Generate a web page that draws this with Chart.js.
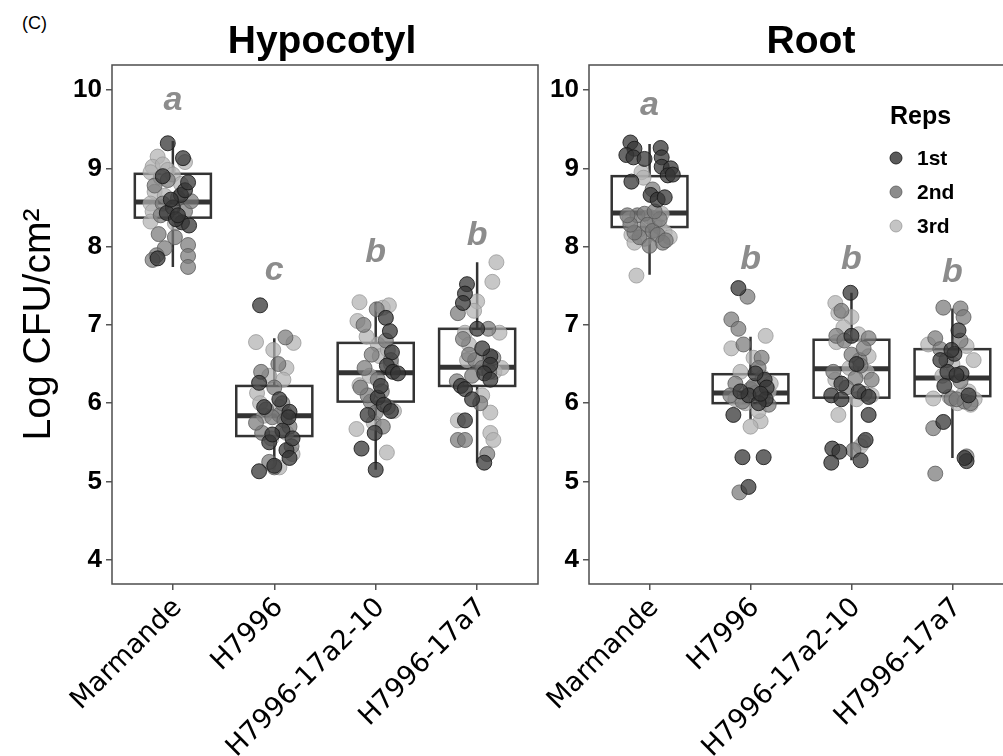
<!DOCTYPE html>
<html>
<head>
<meta charset="utf-8">
<script src="https://cdn.jsdelivr.net/npm/chart.js@4/dist/chart.umd.min.js"></script>
<style>
  html, body { margin: 0; padding: 0; background: #fff; overflow: hidden; width: 1003px; height: 756px; }
  canvas { position: absolute; top: 0; }
  #left { left: 0; }
  #right { left: 520px; }
  #tag { position: absolute; left: 22px; top: 13px; font: 18px Arial, sans-serif; color: #000; }
</style>
</head>
<body>
<div id="tag">(C)</div>
<canvas id="left" width="548" height="756"></canvas>
<canvas id="right" width="503" height="756"></canvas>
<script>
const categories = ['Marmande', 'H7996', 'H7996-17a2-10', 'H7996-17a7']
const repNames = ['1st', '2nd', '3rd']
const yTicks = [4, 5, 6, 7, 8, 9, 10]

// box stats
const hypoLow = [7.74, 5.15, 5.15, 5.24]
const hypoQ1 = [8.37, 5.58, 6.02, 6.22]
const hypoMed = [8.57, 5.84, 6.39, 6.46]
const hypoQ3 = [8.93, 6.22, 6.77, 6.95]
const hypoHigh = [9.35, 6.83, 7.29, 7.80]

const rootLow = [7.64, 5.79, 5.27, 5.30]
const rootQ1 = [8.25, 6.00, 6.07, 6.09]
const rootMed = [8.43, 6.13, 6.44, 6.32]
const rootQ3 = [8.90, 6.37, 6.81, 6.69]
const rootHigh = [9.31, 6.85, 7.41, 7.21]

// significance letters and the value their baseline sits on
const hypoLetters = ['a', 'c', 'b', 'b']
const hypoLetterY = [9.74, 7.57, 7.80, 8.02]
const rootLetters = ['a', 'b', 'b', 'b']
const rootLetterY = [9.68, 7.71, 7.71, 7.55]

// jittered points per rep, per genotype: [x jitter, log CFU]
const hypoRep1 = [
    [[-0.05, 9.32], [0.10, 9.13], [0.08, 8.66], [0.00, 8.50], [0.09, 8.31], [0.16, 8.27], [-0.06, 8.43], [0.12, 8.72], [0.03, 8.35], [-0.10, 8.90], [0.15, 8.82], [-0.02, 8.60], [0.05, 8.40], [-0.15, 7.85]],
    [[-0.14, 7.25], [-0.15, 6.26], [0.15, 5.89], [0.14, 5.82], [-0.05, 5.50], [0.12, 5.40], [0.15, 5.30], [-0.15, 5.13], [0.08, 5.65], [-0.02, 5.60], [0.18, 5.55], [0.05, 6.05], [-0.10, 5.95], [0.00, 5.20]],
    [[0.10, 7.09], [0.14, 6.92], [0.16, 6.65], [0.11, 6.48], [0.17, 6.40], [0.22, 6.38], [0.02, 6.07], [0.08, 5.98], [0.15, 5.90], [-0.01, 5.62], [-0.14, 5.42], [0.00, 5.15], [0.05, 6.22], [-0.08, 5.85]],
    [[-0.10, 7.52], [-0.12, 7.40], [-0.14, 7.28], [0.13, 6.60], [0.13, 6.49], [0.07, 6.38], [-0.16, 6.22], [-0.12, 6.18], [0.13, 6.30], [-0.12, 5.78], [0.07, 5.24], [0.00, 6.95], [0.05, 6.70], [-0.05, 6.05]]
]
const hypoRep2 = [
    [[-0.14, 8.16], [-0.08, 7.98], [-0.16, 7.89], [-0.20, 7.83], [0.15, 8.02], [0.15, 7.88], [0.15, 7.74], [0.02, 8.12], [-0.10, 8.55], [0.05, 8.62], [-0.18, 8.78], [0.12, 8.45], [-0.05, 8.85], [0.18, 8.58], [-0.12, 8.40]],
    [[0.11, 6.84], [0.04, 6.50], [-0.13, 6.40], [0.00, 6.20], [-0.08, 5.92], [0.05, 5.85], [-0.02, 5.82], [0.10, 5.78], [-0.12, 5.62], [0.15, 5.70], [0.17, 5.45], [0.00, 5.18], [-0.05, 5.25], [0.08, 6.00], [-0.18, 5.75]],
    [[0.01, 7.20], [-0.12, 7.00], [-0.04, 6.62], [-0.11, 6.45], [0.02, 6.30], [0.06, 6.15], [-0.05, 6.02], [0.12, 5.95], [0.07, 5.70], [-0.08, 6.10], [0.15, 6.55], [0.10, 6.80], [-0.15, 6.20], [0.00, 5.88]],
    [[-0.19, 7.15], [0.11, 6.95], [-0.14, 6.82], [-0.02, 6.55], [0.05, 6.45], [0.12, 6.40], [-0.05, 6.35], [-0.20, 6.28], [0.03, 6.00], [-0.19, 5.53], [-0.12, 5.53], [0.10, 5.35], [0.16, 6.58], [-0.08, 6.62]]
]
const hypoRep3 = [
    [[-0.15, 9.15], [-0.20, 9.02], [-0.10, 9.05], [-0.22, 8.95], [-0.05, 8.98], [-0.12, 8.88], [0.00, 8.92], [-0.18, 8.70], [-0.22, 8.55], [-0.08, 8.65], [0.08, 8.80], [-0.20, 8.45], [0.02, 8.30], [-0.22, 8.32], [0.12, 9.08]],
    [[-0.18, 6.78], [0.19, 6.77], [-0.01, 6.68], [0.12, 6.45], [-0.17, 6.13], [-0.05, 6.35], [0.09, 6.30], [-0.14, 6.00], [0.05, 5.95], [-0.10, 5.84], [0.12, 5.62], [-0.03, 5.55], [0.18, 5.35], [0.05, 5.18], [0.10, 5.88]],
    [[-0.16, 7.29], [0.07, 7.22], [0.13, 7.25], [-0.18, 7.05], [0.02, 6.75], [-0.09, 6.85], [-0.16, 6.23], [0.04, 6.60], [0.15, 6.50], [-0.19, 5.67], [0.11, 5.37], [0.18, 5.90], [-0.06, 6.35], [0.12, 6.68], [-0.02, 5.75]],
    [[0.19, 7.80], [0.15, 7.55], [0.00, 7.30], [-0.03, 7.18], [-0.12, 6.90], [-0.08, 6.75], [0.22, 6.90], [0.17, 6.40], [0.24, 6.45], [-0.19, 5.78], [0.13, 5.88], [0.13, 5.62], [0.16, 5.53], [-0.10, 6.55], [0.05, 6.10]]
]

const rootRep1 = [
    [[-0.19, 9.33], [-0.15, 9.25], [-0.23, 9.17], [-0.16, 9.14], [-0.05, 9.12], [0.11, 9.26], [0.12, 9.14], [0.12, 9.02], [0.21, 9.00], [0.18, 8.91], [0.23, 8.92], [-0.18, 8.83], [0.01, 8.66], [0.08, 8.60], [0.15, 8.63]],
    [[-0.12, 7.47], [0.14, 6.30], [0.16, 6.20], [0.05, 6.38], [-0.02, 6.10], [0.15, 6.05], [-0.17, 5.85], [-0.08, 5.31], [0.13, 5.31], [-0.02, 4.93], [0.08, 6.00], [-0.10, 6.15], [0.10, 6.12]],
    [[-0.01, 7.41], [0.00, 6.86], [-0.10, 6.25], [-0.20, 6.10], [-0.10, 6.05], [0.07, 6.15], [0.17, 6.08], [0.17, 5.85], [0.14, 5.53], [-0.19, 5.42], [-0.12, 5.38], [-0.20, 5.24], [0.09, 5.27], [0.05, 6.50]],
    [[0.06, 6.93], [0.02, 6.63], [-0.01, 6.68], [-0.05, 6.40], [0.09, 6.38], [0.04, 6.36], [-0.08, 6.22], [-0.09, 5.76], [0.14, 5.26], [0.12, 5.30], [0.16, 6.10], [-0.12, 6.55]]
]
const rootRep2 = [
    [[0.03, 8.73], [-0.12, 8.40], [-0.05, 8.42], [-0.02, 8.28], [0.03, 8.20], [-0.10, 8.12], [0.08, 8.15], [0.13, 8.05], [0.16, 8.08], [-0.15, 8.18], [0.00, 8.01], [-0.19, 8.28], [0.10, 8.35], [-0.22, 8.40], [0.05, 8.45]],
    [[-0.03, 7.36], [-0.19, 7.07], [-0.12, 6.95], [-0.07, 6.75], [0.11, 6.58], [0.08, 6.45], [-0.15, 6.25], [0.00, 6.18], [0.12, 6.08], [-0.08, 6.02], [0.05, 6.13], [-0.20, 6.10], [0.18, 5.98], [-0.11, 4.86], [0.03, 6.22]],
    [[-0.10, 7.18], [-0.15, 6.86], [-0.07, 6.80], [0.17, 6.83], [0.08, 6.55], [0.00, 6.62], [0.04, 6.32], [0.09, 6.48], [0.13, 6.12], [0.02, 5.40], [-0.05, 6.20], [0.12, 6.70], [-0.18, 6.40], [0.20, 6.30]],
    [[-0.09, 7.22], [0.08, 7.21], [0.11, 7.10], [0.08, 6.80], [-0.17, 6.83], [-0.12, 6.69], [-0.06, 6.55], [0.08, 6.28], [-0.01, 6.06], [0.12, 6.02], [0.04, 6.05], [-0.19, 5.68], [0.14, 5.32], [-0.17, 5.10], [0.18, 6.00]]
]
const rootRep3 = [
    [[-0.08, 8.95], [-0.06, 8.88], [-0.13, 7.63], [-0.18, 8.15], [-0.05, 8.10], [0.10, 8.25], [-0.20, 8.35], [0.15, 8.18], [0.05, 8.30], [-0.10, 8.22], [0.20, 8.12], [0.00, 8.38], [-0.15, 8.05], [0.12, 8.42]],
    [[0.15, 6.86], [-0.19, 6.70], [0.03, 6.58], [0.04, 6.20], [0.10, 5.77], [0.00, 5.70], [0.08, 5.90], [-0.10, 6.40], [0.18, 6.15], [-0.15, 6.05], [0.12, 6.33], [-0.05, 6.00], [0.20, 6.25]],
    [[-0.16, 7.28], [-0.13, 7.15], [0.00, 7.10], [-0.08, 6.97], [-0.15, 6.78], [0.07, 6.88], [0.17, 6.60], [-0.16, 6.30], [0.05, 6.05], [0.20, 6.10], [-0.13, 5.85], [0.12, 5.50], [0.09, 5.45], [-0.02, 6.45], [0.15, 6.40]],
    [[-0.24, 6.75], [0.14, 6.73], [0.21, 6.55], [-0.19, 6.06], [0.10, 6.10], [0.16, 6.15], [0.05, 6.00], [-0.03, 6.08], [0.18, 5.98], [0.22, 6.05], [-0.10, 6.35], [0.00, 6.50]]
]

const repFill = ['rgba(55,55,55,0.75)', 'rgba(120,120,120,0.72)', 'rgba(178,178,178,0.72)']
const repBorder = ['rgba(25,25,25,0.85)', 'rgba(85,85,85,0.75)', 'rgba(150,150,150,0.75)']
const legendFill = ['#5a5a5a', '#8c8c8c', '#c4c4c4']

function toPoints(rep) {
    const pts = []
    rep.forEach((group, i) => {
        group.forEach(([dx, v]) => pts.push({ x: i + 1 + dx, y: v }))
    })
    return pts
}

// boxes, whiskers, letters, panel frame, title (and legend on the right panel)
function panelPlugin(p) {
    return {
        id: 'panel-' + p.title,
        beforeDatasetsDraw(chart) {
            const { ctx, scales: { x, y } } = chart
            ctx.save()
            ctx.strokeStyle = '#333'
            p.low.forEach((lo, i) => {
                const cx = x.getPixelForValue(i + 1)
                const l = x.getPixelForValue(i + 1 - 0.375)
                const r = x.getPixelForValue(i + 1 + 0.375)
                const yq1 = y.getPixelForValue(p.q1[i])
                const yq3 = y.getPixelForValue(p.q3[i])
                ctx.lineWidth = 2.5
                ctx.beginPath()
                ctx.moveTo(cx, y.getPixelForValue(lo)); ctx.lineTo(cx, yq1)
                ctx.moveTo(cx, yq3); ctx.lineTo(cx, y.getPixelForValue(p.high[i]))
                ctx.stroke()
                ctx.strokeRect(l, yq3, r - l, yq1 - yq3)
                ctx.lineWidth = 5
                ctx.beginPath()
                const ym = y.getPixelForValue(p.med[i])
                ctx.moveTo(l, ym); ctx.lineTo(r, ym)
                ctx.stroke()
            })
            ctx.restore()
        },
        afterDatasetsDraw(chart) {
            const { ctx, chartArea: ca, scales: { x, y } } = chart
            ctx.save()
            ctx.strokeStyle = '#4d4d4d'
            ctx.lineWidth = 1.5
            ctx.strokeRect(ca.left, ca.top, ca.right - ca.left, ca.bottom - ca.top)

            ctx.fillStyle = '#8c8c8c'
            ctx.font = 'italic bold 34px Arial'
            ctx.textAlign = 'center'
            ctx.textBaseline = 'alphabetic'
            p.letters.forEach((t, i) => {
                ctx.fillText(t, x.getPixelForValue(i + 1), y.getPixelForValue(p.letterY[i]))
            })

            ctx.fillStyle = '#000'
            ctx.font = 'bold 39px Arial'
            ctx.fillText(p.title, (ca.left + ca.right) / 2 + p.titleShift, 53)

            if (p.legend) {
                const lx = ca.left + 301
                ctx.textAlign = 'left'
                ctx.font = 'bold 25px Arial'
                ctx.fillText('Reps', lx, 124)
                ctx.font = 'bold 21px Arial'
                repNames.forEach((name, k) => {
                    const cy = 158 + k * 34
                    ctx.beginPath()
                    ctx.arc(lx + 6, cy, 6, 0, Math.PI * 2)
                    ctx.fillStyle = legendFill[k]
                    ctx.fill()
                    ctx.lineWidth = 1
                    ctx.strokeStyle = repBorder[k]
                    ctx.stroke()
                    ctx.fillStyle = '#000'
                    ctx.fillText(name, lx + 27, cy + 7)
                })
            }
            ctx.restore()
        }
    }
}

function makeChart(canvasId, reps, yWidth, showTitle, plugin) {
    return new Chart(document.getElementById(canvasId), {
        type: 'scatter',
        data: {
            datasets: reps.map((rep, k) => ({
                label: repNames[k],
                data: toPoints(rep),
                backgroundColor: repFill[k],
                borderColor: repBorder[k],
                borderWidth: 1,
                pointRadius: 7.5,
                pointHoverRadius: 7.5
            }))
        },
        options: {
            responsive: false,
            animation: false,
            events: [],
            layout: { padding: { top: 65, right: 10, left: 0, bottom: 0 } },
            plugins: { legend: { display: false }, tooltip: { enabled: false } },
            scales: {
                x: {
                    type: 'linear',
                    min: 0.4,
                    max: 4.6,
                    afterBuildTicks: s => { s.ticks = categories.map((c, i) => ({ value: i + 1 })) },
                    afterFit: s => {
                        s.height = 172
                        s.paddingLeft = 0
                        s.paddingRight = 0
                    },
                    ticks: {
                        callback: (v, i) => categories[i],
                        minRotation: 45,
                        maxRotation: 45,
                        autoSkip: false,
                        color: '#000',
                        padding: 2,
                        labelOffset: 5,
                        font: { family: 'DejaVu Sans', size: 27 }
                    },
                    grid: { drawOnChartArea: false, tickLength: 6, color: '#555', lineWidth: 1.5 },
                    border: { display: false }
                },
                y: {
                    min: 3.69,
                    max: 10.32,
                    afterBuildTicks: s => { s.ticks = yTicks.map(v => ({ value: v })) },
                    afterFit: s => { s.width = yWidth },
                    ticks: {
                        color: '#000',
                        padding: 4,
                        font: { family: 'Arial', weight: 'bold', size: 26 }
                    },
                    grid: { drawOnChartArea: false, tickLength: 6, color: '#555', lineWidth: 1.5 },
                    border: { display: false },
                    title: {
                        display: showTitle,
                        text: 'Log CFU/cm²',
                        color: '#000',
                        padding: { top: 16 },
                        font: { family: 'Arial', size: 39 }
                    }
                }
            }
        },
        plugins: [plugin]
    })
}

makeChart('left', [hypoRep1, hypoRep2, hypoRep3], 112, true, panelPlugin({
    title: 'Hypocotyl', titleShift: -3, legend: false,
    low: hypoLow, q1: hypoQ1, med: hypoMed, q3: hypoQ3, high: hypoHigh,
    letters: hypoLetters, letterY: hypoLetterY
}))

makeChart('right', [rootRep1, rootRep2, rootRep3], 69, false, panelPlugin({
    title: 'Root', titleShift: 10, legend: true,
    low: rootLow, q1: rootQ1, med: rootMed, q3: rootQ3, high: rootHigh,
    letters: rootLetters, letterY: rootLetterY
}))
</script>
</body>
</html>
